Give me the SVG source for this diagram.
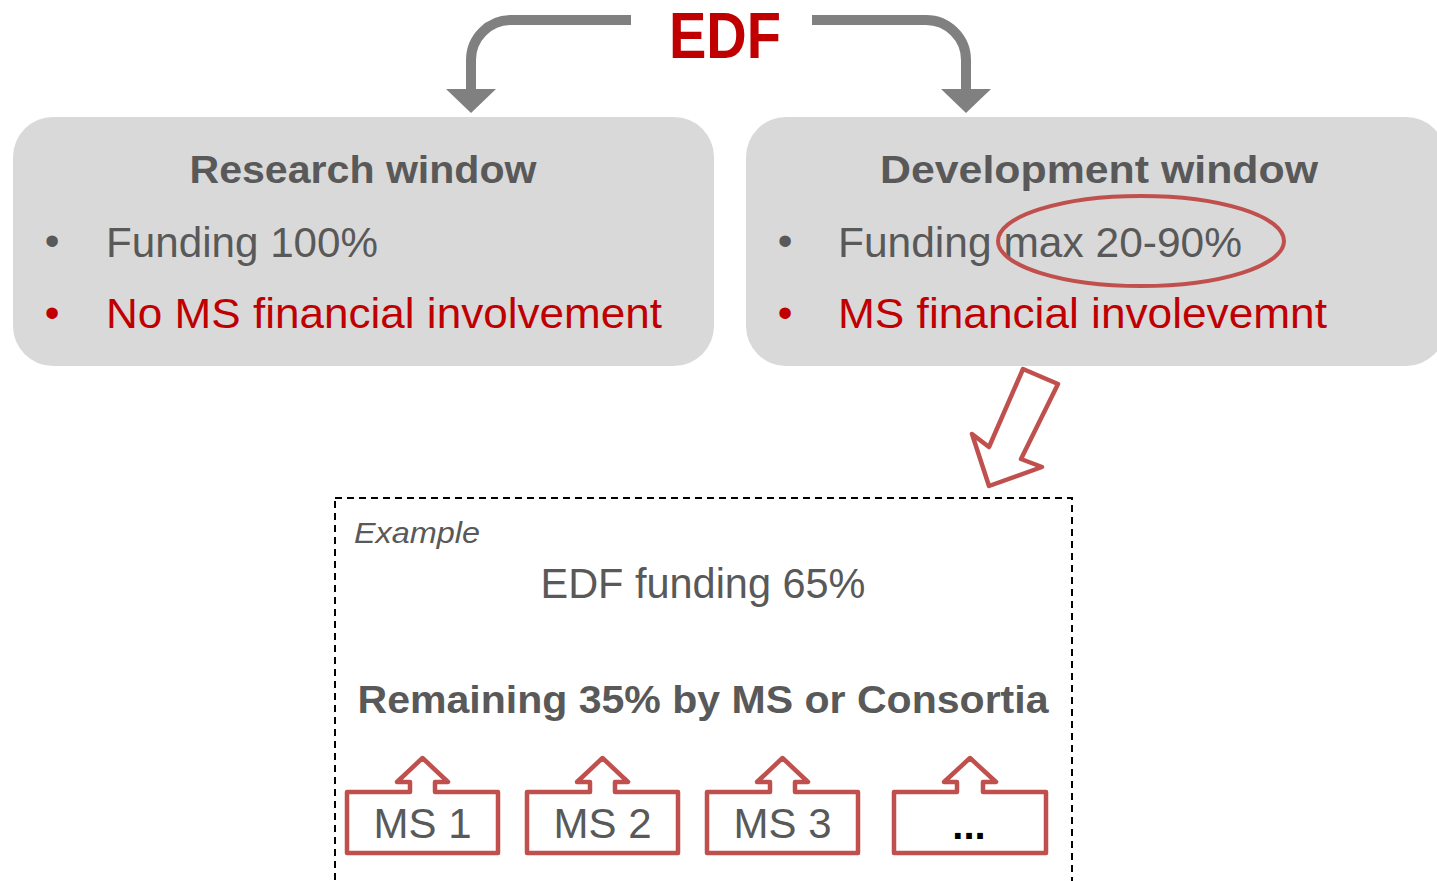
<svg xmlns="http://www.w3.org/2000/svg" width="1437" height="881" viewBox="0 0 1437 881">
<style>
.t{font-family:"Liberation Sans",Arial,sans-serif;fill:#595959}
.b{font-weight:bold}
.red{fill:#c00000}
.panel{fill:#d9d9d9}
.callout{fill:#ffffff;stroke:#c0504d;stroke-width:4.5;stroke-linejoin:round}
.gline{fill:none;stroke:#808080;stroke-width:10}
.ghead{fill:#808080}
</style>
<rect width="1437" height="881" fill="#ffffff"/>
<g id="edf">
<text class="t b red" x="725" y="58" font-size="64" text-anchor="middle" textLength="112" lengthAdjust="spacingAndGlyphs">EDF</text>
</g>
<g id="research-window">
<rect class="panel" x="13" y="117" width="701" height="249" rx="40" ry="40"/>
<text class="t b" x="363" y="183" font-size="39" text-anchor="middle" textLength="347" lengthAdjust="spacingAndGlyphs">Research window</text>
<text class="t" x="52" y="255" font-size="42" text-anchor="middle">•</text>
<text class="t" x="106" y="257" font-size="42" textLength="272" lengthAdjust="spacingAndGlyphs">Funding 100%</text>
<text class="t red" x="52" y="327" font-size="42" text-anchor="middle">•</text>
<text class="t red" x="106" y="328" font-size="42" textLength="556" lengthAdjust="spacingAndGlyphs">No MS financial involvement</text>
</g>
<g id="development-window">
<rect class="panel" x="746" y="117" width="700" height="249" rx="40" ry="40"/>
<text class="t b" x="1099" y="183" font-size="39" text-anchor="middle" textLength="438" lengthAdjust="spacingAndGlyphs">Development window</text>
<text class="t" x="785" y="255" font-size="42" text-anchor="middle">•</text>
<text class="t" x="838" y="257" font-size="42" textLength="404" lengthAdjust="spacingAndGlyphs">Funding max 20-90%</text>
<text class="t red" x="785" y="327" font-size="42" text-anchor="middle">•</text>
<text class="t red" x="838" y="328" font-size="42" textLength="489" lengthAdjust="spacingAndGlyphs">MS financial involevemnt</text>
<ellipse cx="1141" cy="241" rx="143" ry="45" fill="none" stroke="#c0504d" stroke-width="4"/>
</g>
<g id="connectors">
<path class="gline" d="M631,20 H511 A40,40 0 0 0 471,60 V92"/>
<polygon class="ghead" points="446,89 496,89 471,113"/>
<path class="gline" d="M812,20 H926 A40,40 0 0 1 966,60 V92"/>
<polygon class="ghead" points="941,89 991,89 966,113"/>
<polygon class="callout" points="1023,369 1058,384 1021,459 1042,467 989,486 972,434 989,447"/>
</g>
<g id="example">
<rect x="335" y="498" width="737" height="420" fill="none" stroke="#000000" stroke-width="2" stroke-dasharray="7 5"/>
<text class="t" x="354" y="543" font-size="29" font-style="italic" textLength="126" lengthAdjust="spacingAndGlyphs">Example</text>
<text class="t" x="703" y="598" font-size="42" text-anchor="middle" textLength="325" lengthAdjust="spacingAndGlyphs">EDF funding 65%</text>
<text class="t b" x="703" y="713" font-size="39" text-anchor="middle" textLength="691" lengthAdjust="spacingAndGlyphs">Remaining 35% by MS or Consortia</text>
</g>
<g id="ms1">
<path class="callout" d="M347,792 H410 V782 H397 L422.5,758 L448,782 H435 V792 H498 V853 H347 Z"/>
<text class="t" x="422.5" y="838" font-size="42" text-anchor="middle">MS 1</text>
</g>
<g id="ms2">
<path class="callout" d="M527,792 H590 V782 H577 L602.5,758 L628,782 H615 V792 H678 V853 H527 Z"/>
<text class="t" x="602.5" y="838" font-size="42" text-anchor="middle">MS 2</text>
</g>
<g id="ms3">
<path class="callout" d="M707,792 H770 V782 H757 L782.5,758 L808,782 H795 V792 H858 V853 H707 Z"/>
<text class="t" x="782.5" y="838" font-size="42" text-anchor="middle">MS 3</text>
</g>
<g id="ms-more">
<path class="callout" d="M894,792 H957 V782 H944 L970,758 L996,782 H983 V792 H1046 V853 H894 Z"/>
<text class="t b" x="969" y="839" font-size="40" text-anchor="middle" style="fill:#000000">...</text>
</g>
</svg>
